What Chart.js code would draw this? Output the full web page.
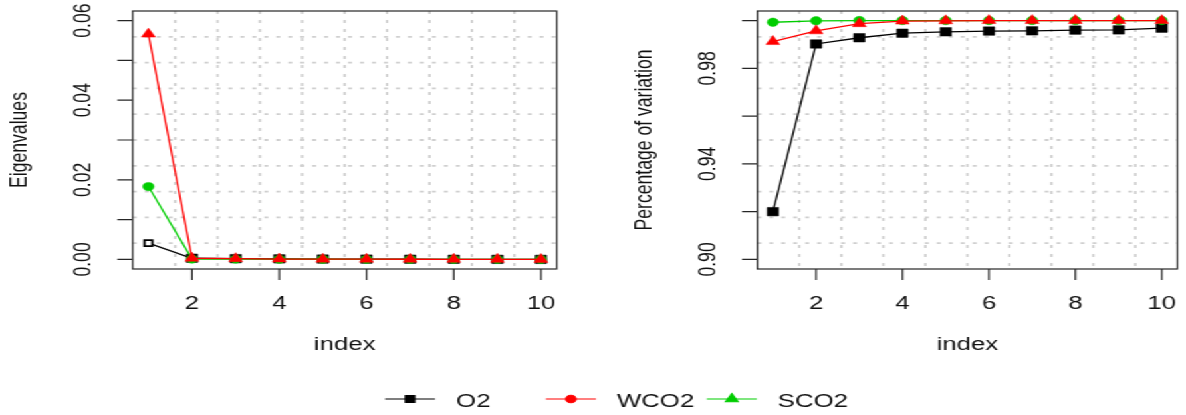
<!DOCTYPE html>
<html>
<head>
<meta charset="utf-8">
<script src="https://cdn.jsdelivr.net/npm/chart.js@4.4.1/dist/chart.umd.min.js"></script>
<style>
  html, body { margin: 0; padding: 0; background: #fff; overflow: hidden; }
  /* the original R plot was stretched sideways, so the whole stage is too */
  #stage { position: relative; width: 892px; height: 415px; transform: scaleX(1.3296); transform-origin: 0 0; }
  #stage canvas { position: absolute; left: 0; top: 0; }
</style>
</head>
<body>
<div id="stage">
  <canvas id="eigen-chart" width="892" height="415"></canvas>
  <canvas id="cumvar-chart" width="892" height="415"></canvas>
</div>
<script>
const indexValues = [1, 2, 3, 4, 5, 6, 7, 8, 9, 10];

// left panel: eigenvalues
const o2Eigen   = [0.0041, 0.0003, 0.0002, 0.00015, 0.0001, 0.00008, 0.00006, 0.00004, 0.00003, 0.00002];
const wco2Eigen = [0.0566, 0.0003, 0.0002, 0.0001, 0.00008, 0.00006, 0.00005, 0.00003, 0.00002, 0.00001];
const sco2Eigen = [0.0183, 0.0001, 0.00008, 0.00006, 0.00005, 0.00004, 0.00003, 0.00002, 0.00001, 0.00001];

// right panel: cumulative percentage of variation
const o2CumVar   = [0.9200, 0.9902, 0.9928, 0.9947, 0.9953, 0.9956, 0.9957, 0.9960, 0.9961, 0.9968];
const wco2CumVar = [0.9912, 0.9957, 0.9987, 0.9998, 0.9999, 1.0000, 1.0000, 1.0000, 1.0000, 1.0000];
const sco2CumVar = [0.9993, 0.9999, 1.0000, 1.0000, 1.0000, 1.0000, 1.0000, 1.0000, 1.0000, 1.0000];

const xTicks = [2, 4, 6, 8, 10];
const eigenTicks = [0, 0.01, 0.02, 0.03, 0.04, 0.05, 0.06];
const eigenTickLabels = [0, 0.02, 0.04, 0.06];
const cumVarTicks = [0.90, 0.92, 0.94, 0.96, 0.98, 1.00];
const cumVarTickLabels = [0.90, 0.94, 0.98];

const seriesNames = ["O2", "WCO2", "SCO2"];
const seriesColors = ["#000000", "#ff0000", "#00cd00"];
const legendMarkers = ["rect", "circle", "triangle"];

const FONT = '"Liberation Sans", Arial, sans-serif';
const FONT_SIZE = 17.6;
const TEXT_STRETCH = 1.1;
const TEXT_COLOR = "#111";
const BOX_COLOR = "#262626";
const GRID_COLOR = "#cfcfcf";

function drawText(ctx, text, x, y, rotate, align) {
  ctx.save();
  ctx.translate(x, y);
  if (rotate) {
    ctx.rotate(-Math.PI / 2);
  } else {
    ctx.scale(TEXT_STRETCH, 1);
  }
  ctx.font = `${FONT_SIZE}px ${FONT}`;
  ctx.fillStyle = TEXT_COLOR;
  ctx.textAlign = align || "center";
  ctx.textBaseline = "alphabetic";
  ctx.fillText(text, 0, 0);
  ctx.restore();
}

function drawLegend(ctx) {
  const lineY = 399;
  seriesNames.forEach((name, i) => {
    const start = 289.6 + i * 121;
    ctx.save();
    ctx.strokeStyle = seriesColors[i];
    ctx.fillStyle = seriesColors[i];
    ctx.lineWidth = 1.1;
    ctx.beginPath();
    ctx.moveTo(start, lineY);
    ctx.lineTo(start + 37.6, lineY);
    ctx.stroke();
    const radius = legendMarkers[i] === "circle" ? 3.8 : (legendMarkers[i] === "rect" ? 5 : 5.5);
    Chart.helpers.drawPoint(ctx, { pointStyle: legendMarkers[i], radius: radius, rotation: 0, borderWidth: 1 }, start + 18.8, lineY);
    ctx.restore();
    drawText(ctx, name, start + 53.5, 406.5, false, "left");
  });
}

function panelPlugin(panel) {
  return {
    id: "rPanel",
    beforeDatasetsDraw(chart) {
      const { ctx, chartArea } = chart;
      const { left, right, top, bottom } = chartArea;
      ctx.save();
      ctx.strokeStyle = GRID_COLOR;
      ctx.lineWidth = 1.8;
      ctx.setLineDash([3, 6]);
      for (let k = 1; k < 10; k++) {
        const gx = left + (right - left) * k / 10;
        const gy = top + (bottom - top) * k / 10;
        ctx.beginPath();
        ctx.moveTo(gx, top);
        ctx.lineTo(gx, bottom);
        ctx.stroke();
        ctx.beginPath();
        ctx.moveTo(left, gy);
        ctx.lineTo(right, gy);
        ctx.stroke();
      }
      ctx.restore();
    },
    afterDatasetsDraw(chart) {
      const { ctx, chartArea, scales } = chart;
      const { left, right, top, bottom } = chartArea;
      ctx.save();
      ctx.strokeStyle = BOX_COLOR;
      ctx.lineWidth = 1.2;
      ctx.strokeRect(left, top, right - left, bottom - top);
      ctx.beginPath();
      xTicks.forEach(v => {
        const px = scales.x.getPixelForValue(v);
        ctx.moveTo(px, bottom);
        ctx.lineTo(px, bottom + 11);
      });
      panel.yTicks.forEach(v => {
        const py = scales.y.getPixelForValue(v);
        ctx.moveTo(left - 11.5, py);
        ctx.lineTo(left, py);
      });
      ctx.stroke();
      ctx.restore();

      xTicks.forEach(v => {
        drawText(ctx, String(v), scales.x.getPixelForValue(v), 308.5, false);
      });
      panel.yLabels.forEach(v => {
        drawText(ctx, v.toFixed(2), left - 32, scales.y.getPixelForValue(v), true);
      });
      drawText(ctx, "index", (left + right) / 2, 350, false);
      drawText(ctx, panel.yTitle, left - 79.6, (top + bottom) / 2, true);

      if (panel.legend) drawLegend(ctx);
    }
  };
}

function makeDatasets(o2, wco2, sco2, hollowFirst) {
  const toPoints = arr => arr.map((y, i) => ({ x: indexValues[i], y: y }));
  return [
    {
      label: seriesNames[1],
      data: toPoints(wco2),
      borderColor: seriesColors[1],
      backgroundColor: seriesColors[1],
      pointStyle: "triangle",
      pointRadius: 6,
      pointBorderWidth: 0.5
    },
    {
      label: seriesNames[2],
      data: toPoints(sco2),
      borderColor: seriesColors[2],
      backgroundColor: seriesColors[2],
      pointStyle: "circle",
      pointRadius: 4.2,
      pointBorderWidth: 0.5
    },
    {
      label: seriesNames[0],
      data: toPoints(o2),
      borderColor: seriesColors[0],
      backgroundColor: seriesColors[0],
      pointStyle: "rect",
      pointRadius: o2.map((v, i) => (hollowFirst && i === 0) ? 4.2 : 6),
      pointBackgroundColor: o2.map((v, i) => (hollowFirst && i === 0) ? "#ffffff" : seriesColors[0]),
      pointBorderWidth: o2.map((v, i) => (hollowFirst && i === 0) ? 1.8 : 0.5)
    }
  ];
}

function makeChart(canvasId, datasets, yMin, yMax, padding, panel) {
  const canvas = document.getElementById(canvasId);
  if (!canvas) {
    console.error("Canvas " + canvasId + " not found");
    return null;
  }
  datasets.forEach(ds => {
    ds.borderWidth = 1.3;
    ds.tension = 0;
    ds.clip = false;
    ds.pointHoverRadius = ds.pointRadius;
  });
  return new Chart(canvas, {
    type: "line",
    data: { datasets: datasets },
    options: {
      responsive: false,
      animation: false,
      devicePixelRatio: 1,
      layout: { padding: padding },
      scales: {
        x: { type: "linear", min: 0.64, max: 10.36, display: false },
        y: { type: "linear", min: yMin, max: yMax, display: false }
      },
      plugins: {
        legend: { display: false },
        tooltip: { enabled: false }
      }
    },
    plugins: [panelPlugin(panel)]
  });
}

makeChart(
  "eigen-chart",
  makeDatasets(o2Eigen, wco2Eigen, sco2Eigen, true),
  -0.0024, 0.0624,
  { left: 99.8, right: 473.3, top: 11, bottom: 146 },
  { yTicks: eigenTicks, yLabels: eigenTickLabels, yTitle: "Eigenvalues", legend: false }
);

makeChart(
  "cumvar-chart",
  makeDatasets(o2CumVar, wco2CumVar, sco2CumVar, false),
  0.896, 1.004,
  { left: 569.6, right: 2.5, top: 11, bottom: 146 },
  { yTicks: cumVarTicks, yLabels: cumVarTickLabels, yTitle: "Percentage of variation", legend: true }
);
</script>
</body>
</html>
